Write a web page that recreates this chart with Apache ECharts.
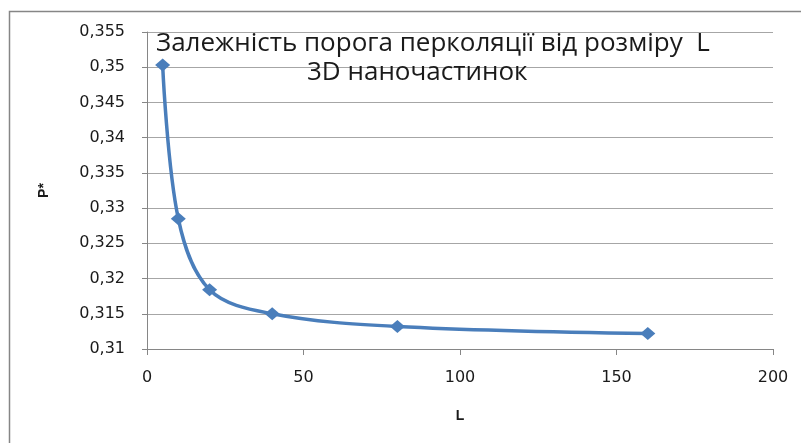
<!DOCTYPE html>
<html>
<head>
<meta charset="utf-8">
<script src="https://cdn.jsdelivr.net/npm/echarts@6/dist/echarts.min.js"></script>
<style>
  html, body { margin: 0; padding: 0; background: #fff; }
  #chart { width: 801px; height: 443px; }
</style>
</head>
<body>
<div id="chart"></div>
<script>
// Percolation threshold p* versus nanoparticle size L
const sizesL = [5, 10, 20, 40, 80, 160];
const thresholdP = [0.3503, 0.3285, 0.3184, 0.3150, 0.3132, 0.3122];
const titleLine1 = 'Залежність порога перколяції від розміру  L';
const titleLine2 = '3D наночастинок';
const xAxisName = 'L';
const yAxisName = 'P*';

const points = sizesL.map((x, i) => [x, thresholdP[i]]);
const comma = v => String(+v.toFixed(3)).replace('.', ',');

const chart = echarts.init(document.getElementById('chart'), null, { renderer: 'canvas' });
chart.setOption({
  animation: false,
  backgroundColor: '#ffffff',
  textStyle: { fontFamily: 'Open Sans' },
  title: [
    { text: titleLine1, left: 151, top: 24,
      textStyle: { fontFamily: 'Open Sans', fontSize: 26, lineHeight: 30, fontWeight: 'normal', color: '#1a1a1a' } },
    { text: titleLine2, left: 302, top: 53,
      textStyle: { fontFamily: 'Open Sans', fontSize: 26, lineHeight: 30, fontWeight: 'normal', color: '#1a1a1a' } }
  ],
  graphic: [
    { type: 'polyline', shape: { points: [[9.5, 443], [9.5, 11.5], [801, 11.5]] },
      style: { stroke: '#868686', lineWidth: 1.5, fill: null }, silent: true }
  ],
  grid: { left: 147, right: 28, top: 32, bottom: 94, containLabel: false },
  xAxis: {
    type: 'value', min: 0, max: 200, interval: 50,
    name: xAxisName, nameLocation: 'middle', nameGap: 60,
    nameTextStyle: { fontFamily: 'Liberation Sans', fontWeight: 'bold', fontSize: 14, color: '#1a1a1a' },
    axisLine: { show: true, onZero: false, lineStyle: { color: '#868686', width: 1 } },
    axisTick: { show: true, inside: false, length: 6, lineStyle: { color: '#868686' } },
    axisLabel: { fontFamily: 'DejaVu Sans', fontSize: 16, color: '#1a1a1a', margin: 21 },
    splitLine: { show: false }
  },
  yAxis: {
    type: 'value', min: 0.31, max: 0.355, interval: 0.005,
    name: yAxisName, nameLocation: 'middle', nameGap: 96, nameRotate: 90,
    nameTextStyle: { fontFamily: 'Liberation Sans', fontWeight: 'bold', fontSize: 14, color: '#1a1a1a' },
    axisLine: { show: true, lineStyle: { color: '#868686', width: 1 } },
    axisTick: { show: true, inside: false, length: 5, lineStyle: { color: '#868686' } },
    axisLabel: { fontFamily: 'DejaVu Sans', fontSize: 16, color: '#1a1a1a', margin: 22, formatter: comma },
    splitLine: { show: true, lineStyle: { color: '#a6a6a6', width: 1 } }
  },
  series: [{
    type: 'line',
    data: points,
    smooth: 0.35,
    symbol: 'diamond',
    symbolSize: [15, 13],
    lineStyle: { color: '#4a7ebb', width: 3.5 },
    itemStyle: { color: '#4a7ebb' }
  }]
});
</script>
</body>
</html>
